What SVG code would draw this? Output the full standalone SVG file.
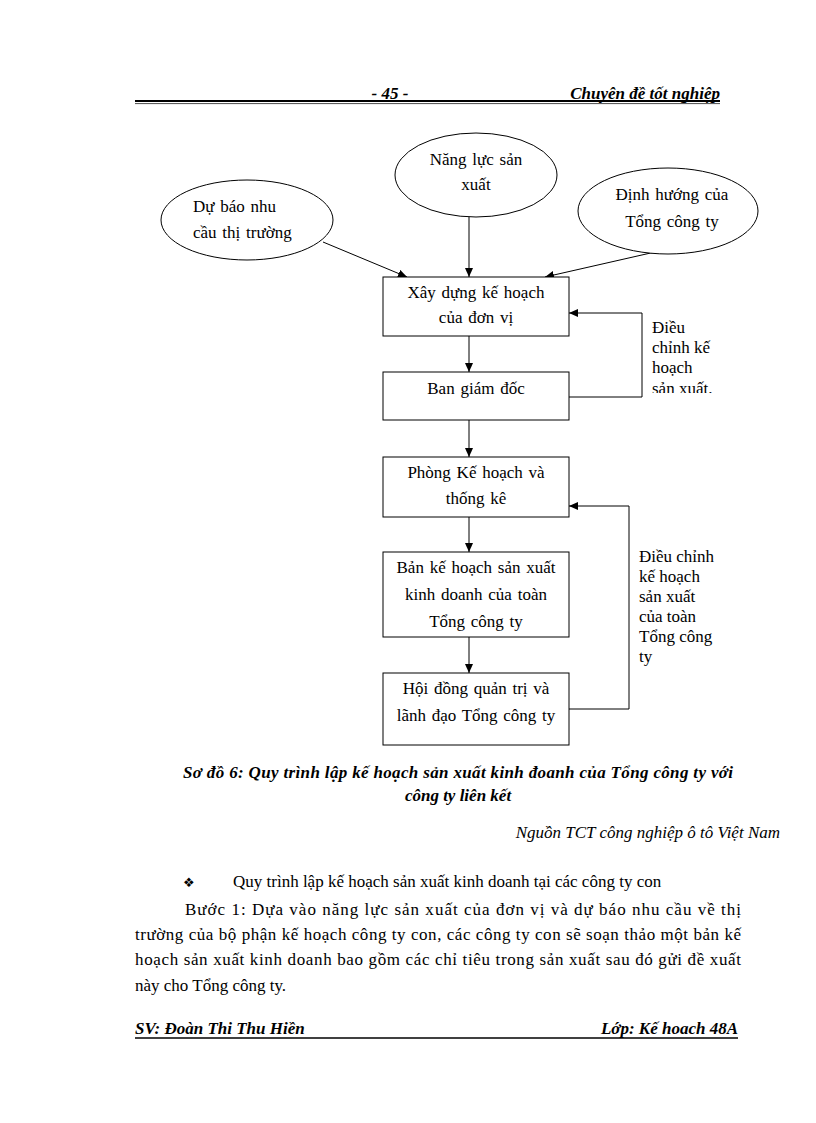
<svg xmlns="http://www.w3.org/2000/svg" width="816" height="1123" viewBox="0 0 816 1123">
<style>
.t{font-family:"Liberation Serif","Times New Roman",serif;font-size:17px;fill:#000}
.c{text-anchor:middle}
.e{text-anchor:end}
.bi{font-weight:bold;font-style:italic}
.i{font-style:italic}
.w{word-spacing:1.5px}
.shape{fill:#fff;stroke:#000;stroke-width:1}
.ln{fill:none;stroke:#000;stroke-width:1}
</style>
<defs>
<marker id="ah" markerUnits="userSpaceOnUse" markerWidth="10" markerHeight="8" refX="9" refY="4" orient="auto">
<path d="M0,0 L9,4 L0,8 z" fill="#000"/>
</marker>
<clipPath id="clip1"><rect x="640" y="310" width="120" height="83"/></clipPath>
</defs>
<rect width="816" height="1123" fill="#fff"/>

<g id="header">
<text class="t bi c" x="390" y="99" font-size="16">- 45 -</text>
<text class="t bi e" x="720" y="99" font-size="16">Chuyên đề tốt nghiệp</text>
<line x1="135" y1="101" x2="720" y2="101" stroke="#000" stroke-width="1.8"/>
<line x1="135" y1="103.6" x2="720" y2="103.6" stroke="#000" stroke-width="0.7"/>
</g>

<g id="connectors">
<line class="ln" x1="323" y1="242" x2="407" y2="277" marker-end="url(#ah)"/>
<line class="ln" x1="469" y1="217" x2="469" y2="277" marker-end="url(#ah)"/>
<line class="ln" x1="655" y1="252" x2="545" y2="277" marker-end="url(#ah)"/>
<line class="ln" x1="469" y1="336" x2="469" y2="372" marker-end="url(#ah)"/>
<line class="ln" x1="469" y1="420" x2="469" y2="457" marker-end="url(#ah)"/>
<line class="ln" x1="469" y1="517" x2="469" y2="552" marker-end="url(#ah)"/>
<line class="ln" x1="469" y1="637" x2="469" y2="673" marker-end="url(#ah)"/>
<polyline class="ln" points="569,397 642,397 642,313 569,313" marker-end="url(#ah)"/>
<polyline class="ln" points="569,709 629,709 629,506 569,506" marker-end="url(#ah)"/>
</g>

<g id="n-dubao">
<ellipse class="shape" cx="247" cy="220" rx="86" ry="40"/>
<text class="t w" x="193" y="212">Dự báo nhu</text>
<text class="t w" x="193" y="238">cầu thị trường</text>
</g>
<g id="n-nangluc">
<ellipse class="shape" cx="476" cy="175" rx="81" ry="42"/>
<text class="t c w" x="476" y="165">Năng lực sản</text>
<text class="t c" x="476" y="190">xuất</text>
</g>
<g id="n-dinhhuong">
<ellipse class="shape" cx="668" cy="211" rx="90" ry="43"/>
<text class="t c w" x="672" y="200">Định hướng của</text>
<text class="t c w" x="672" y="227">Tổng công ty</text>
</g>

<g id="n-xaydung">
<rect class="shape" x="383" y="277" width="186" height="59"/>
<text class="t c w" x="476" y="298">Xây dựng kế hoạch</text>
<text class="t c w" x="476" y="323">của đơn vị</text>
</g>
<g id="n-bangiamdoc">
<rect class="shape" x="383" y="372" width="186" height="48"/>
<text class="t c w" x="476" y="394">Ban giám đốc</text>
</g>
<g id="n-phongkh">
<rect class="shape" x="383" y="457" width="186" height="60"/>
<text class="t c w" x="476" y="478">Phòng Kế hoạch và</text>
<text class="t c w" x="476" y="504">thống kê</text>
</g>
<g id="n-bankehoach">
<rect class="shape" x="383" y="552" width="186" height="85"/>
<text class="t c w" x="476" y="573">Bản kế hoạch sản xuất</text>
<text class="t c w" x="476" y="600">kinh doanh của toàn</text>
<text class="t c w" x="476" y="627">Tổng công ty</text>
</g>
<g id="n-hoidong">
<rect class="shape" x="383" y="673" width="186" height="72"/>
<text class="t c w" x="476" y="694">Hội đồng quản trị và</text>
<text class="t c w" x="476" y="721">lãnh đạo Tổng công ty</text>
</g>

<g id="label-dieuchinh1" clip-path="url(#clip1)">
<text class="t" x="652" y="333">Điều</text>
<text class="t" x="652" y="353">chỉnh kế</text>
<text class="t" x="652" y="373">hoạch</text>
<text class="t" x="652" y="394">sản xuất.</text>
</g>
<g id="label-dieuchinh2">
<text class="t" x="639" y="562">Điều chỉnh</text>
<text class="t" x="639" y="582">kế hoạch</text>
<text class="t" x="639" y="602">sản xuất</text>
<text class="t" x="639" y="622">của toàn</text>
<text class="t" x="639" y="642">Tổng công</text>
<text class="t" x="639" y="662">ty</text>
</g>

<g id="caption">
<text class="t bi" x="183" y="778" font-size="16" textLength="550" lengthAdjust="spacing">Sơ đồ 6: Quy trình lập kế hoạch sản xuất kinh đoanh của Tổng công ty với</text>
<text class="t bi c" x="458" y="801" font-size="16">công ty liên kết</text>
<text class="t i e" x="780" y="838">Nguồn TCT công nghiệp ô tô Việt Nam</text>
</g>

<g id="body">
<text x="183" y="887" font-family="DejaVu Sans,sans-serif" font-size="13">❖</text>
<text class="t" x="233" y="887">Quy trình lập kế hoạch sản xuất kinh doanh tại các công ty con</text>
<text class="t" x="185" y="915" textLength="556" lengthAdjust="spacing">Bước 1: Dựa vào năng lực sản xuất của đơn vị và dự báo nhu cầu về thị</text>
<text class="t" x="135" y="940" textLength="606" lengthAdjust="spacing">trường của bộ phận kế hoạch công ty con, các công ty con sẽ soạn thảo một bản kế</text>
<text class="t" x="135" y="965" textLength="606" lengthAdjust="spacing">hoạch sản xuất kinh doanh bao gồm các chỉ tiêu trong sản xuất sau đó gửi đề xuất</text>
<text class="t" x="135" y="991">này cho Tổng công ty.</text>
</g>

<g id="footer">
<text class="t bi" x="135" y="1034" font-size="16">SV: Đoàn Thi Thu Hiền</text>
<text class="t bi e" x="738" y="1034" font-size="16">Lớp: Kế hoach 48A</text>
<line x1="135" y1="1038" x2="738" y2="1038" stroke="#000" stroke-width="1.6"/>
</g>
</svg>
